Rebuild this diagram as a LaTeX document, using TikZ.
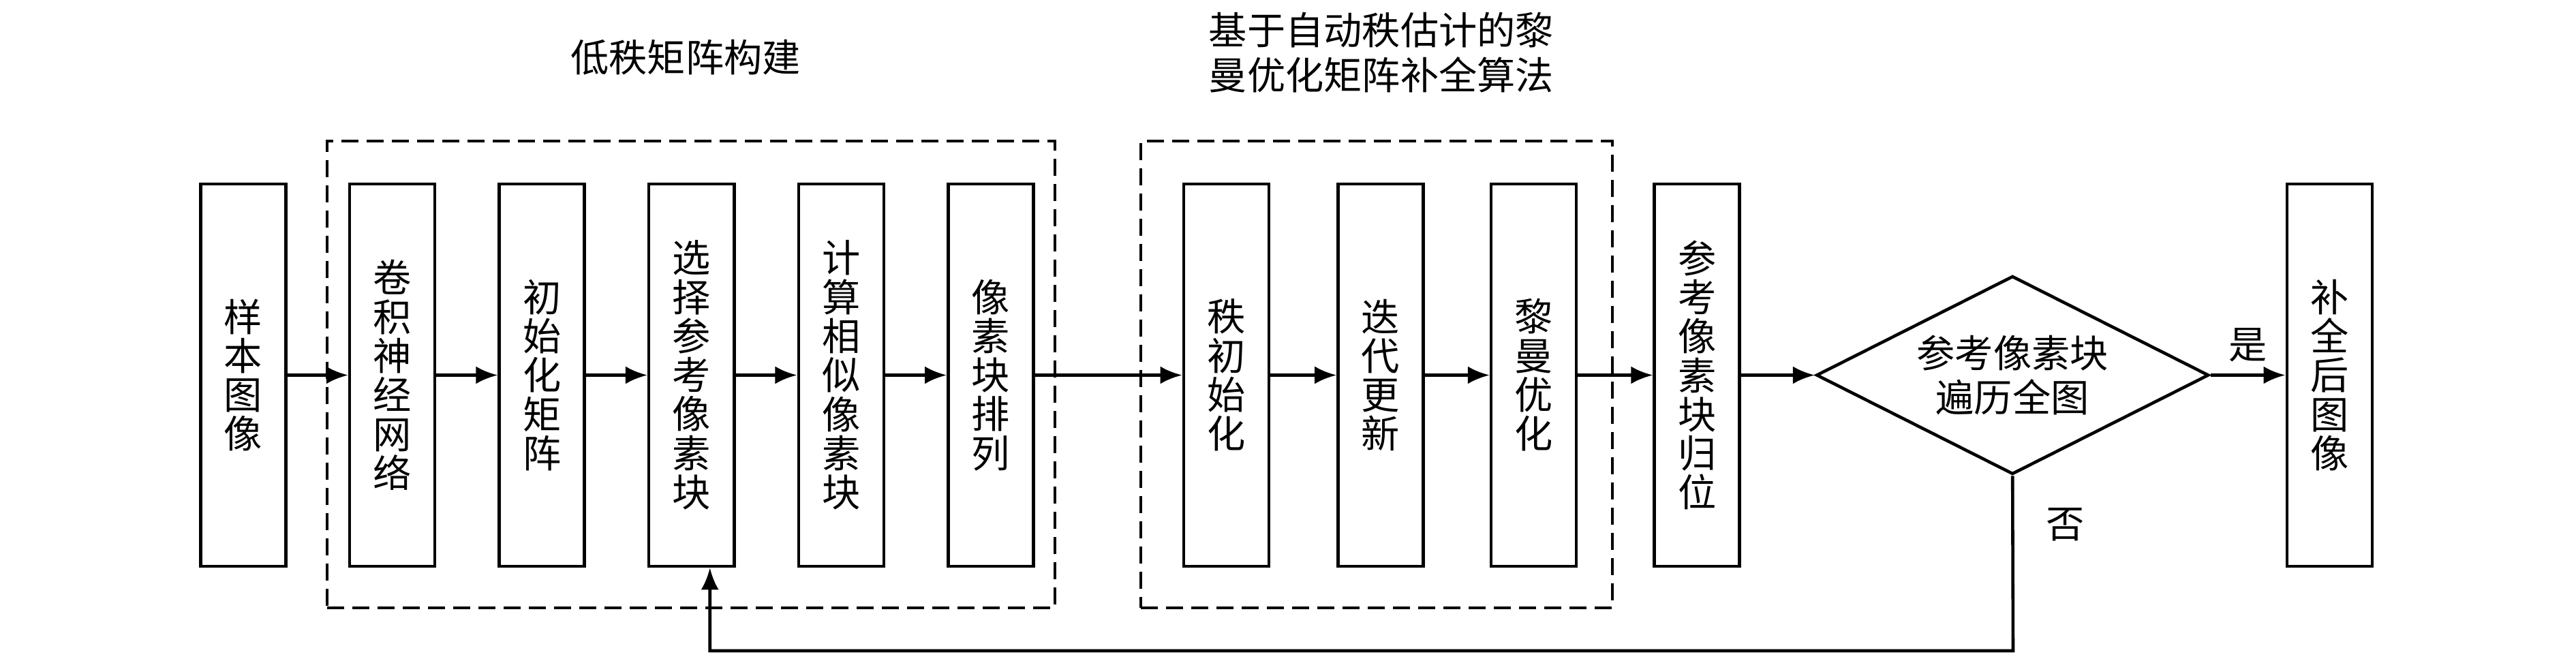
\documentclass[tikz,border=0pt]{standalone}
\usepackage{fontspec}
\setmainfont{Noto Sans CJK SC}
\usetikzlibrary{positioning,shapes.geometric,arrows.meta}

\tikzset{
  stage/.style={draw, line width=1.3pt, minimum width=1.25cm, minimum height=5.61cm,
    inner sep=0pt, align=center, font=\fontsize{16pt}{16.3pt}\selectfont},
  test/.style={draw, diamond, aspect=1.98, line width=1.3pt, minimum width=5.76cm,
    minimum height=2.91cm, inner sep=0pt, align=center, font=\fontsize{16pt}{18.5pt}\selectfont},
  group/.style={draw, line width=0.9pt, dash pattern=on 0.25cm off 0.12cm,
    minimum height=6.85cm},
  title/.style={align=center, font=\fontsize{16pt}{19pt}\selectfont},
  flow/.style={-{Latex[length=0.32cm,width=0.26cm]}, line width=1.3pt},
}

\begin{document}
\begin{tikzpicture}
      \useasboundingbox (0,0) rectangle (37.8,9.69);
      % Define nodes
      \node[stage]                        (sample) at (3.57,4.185) {样\\本\\图\\像};
      \node[stage, right=0.89cm of sample] (cnn)    {卷\\积\\神\\经\\网\\络};
      \node[stage, right=0.9cm of cnn]     (init)   {初\\始\\化\\矩\\阵};
      \node[stage, right=0.9cm of init]    (select) {选\\择\\参\\考\\像\\素\\块};
      \node[stage, right=0.9cm of select]  (simil)  {计\\算\\相\\似\\像\\素\\块};
      \node[stage, right=0.9cm of simil]   (arrange){像\\素\\块\\排\\列};
      \node[stage, right=2.16cm of arrange](rank)   {秩\\初\\始\\化};
      \node[stage, right=0.97cm of rank]   (iter)   {迭\\代\\更\\新};
      \node[stage, right=0.95cm of iter]   (riem)   {黎\\曼\\优\\化};
      \node[stage, right=1.1cm of riem]    (place)  {参\\考\\像\\素\\块\\归\\位};
      \node[test, right=1.08cm of place]   (check)  {参考像素块\\遍历全图};
      \node[stage, right=1.1cm of check]   (result) {补\\全\\后\\图\\像};
      % Define groups
      \node[group, minimum width=10.68cm] (lowrank) at (10.14,4.195) {};
      \node[group, minimum width=6.92cm]  (rmc)     at (20.20,4.195) {};
      \node[title] (lowranklabel) at (10.06,8.85) {低秩矩阵构建};
      \node[title] (rmclabel)     at (20.27,8.92) {基于自动秩估计的黎\\曼优化矩阵补全算法};
      \coordinate (loop) at (29.54,0.14);
      % Connect nodes
      \draw[flow] (sample) -- (cnn);
      \draw[flow] (cnn) -- (init);
      \draw[flow] (init) -- (select);
      \draw[flow] (select) -- (simil);
      \draw[flow] (simil) -- (arrange);
      \draw[flow] (arrange) -- (rank);
      \draw[flow] (rank) -- (iter);
      \draw[flow] (iter) -- (riem);
      \draw[flow] (riem) -- (place);
      \draw[flow] (place) -- (check);
      \draw[flow] (check.east) -- node[above=0.05cm, font=\fontsize{16pt}{19pt}\selectfont] {是} (result);
      \draw[flow] (check.south) -- node[pos=0.28, right=0.35cm, font=\fontsize{16pt}{19pt}\selectfont] {否} (loop)
        -| ([xshift=0.27cm]select.south);
    \end{tikzpicture}
\end{document}
